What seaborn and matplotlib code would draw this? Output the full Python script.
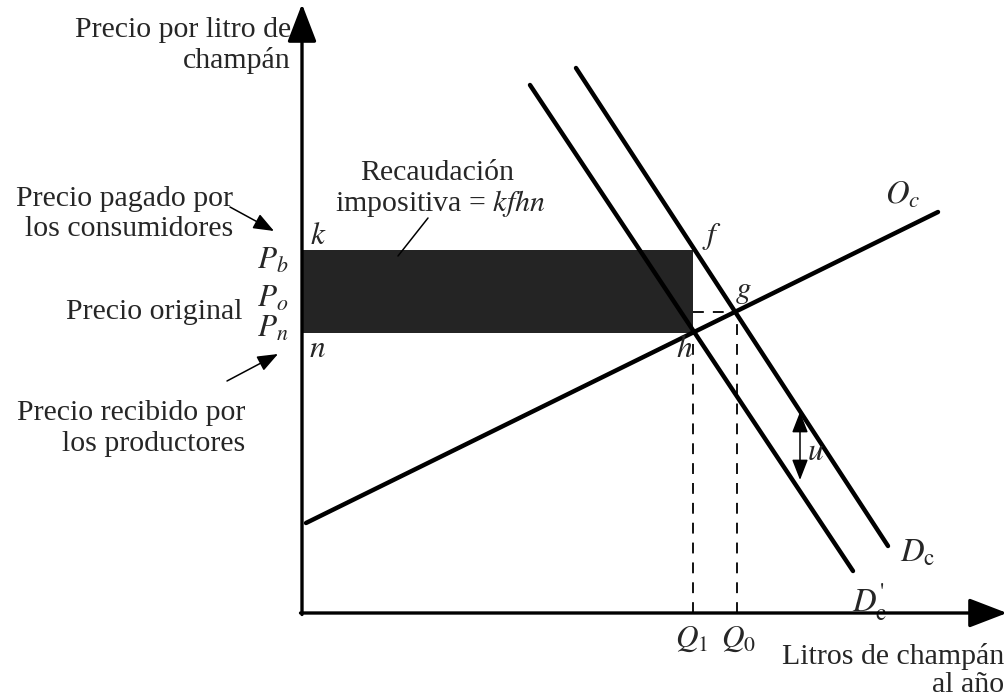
import numpy as np
import matplotlib
matplotlib.use("Agg")
import matplotlib.pyplot as plt
import pandas as pd
import seaborn as sns

# curves: quantity / price end points (origin of the diagram at 0, 0)
supply_q = [4, 636]
supply_p = [90, 401]
demand_q = [274, 586]
demand_p = [545, 67]
demand2_q = [228, 551]
demand2_p = [528, 42]

# prices and quantities
P_b = 363
P_o = 301
P_n = 280
Q_1 = 391
Q_0 = 435

sns.set_theme(style="white")
plt.rcParams['font.family'] = ['Liberation Serif', 'DejaVu Serif']
plt.rcParams['mathtext.fontset'] = 'stix'

fig = plt.figure(figsize=(10.08, 6.98), dpi=100)
ax = fig.add_axes([0, 0, 1, 1])

def P(x, y):
    # picture position -> diagram coords
    return (x - 302, 613 - y)

fs = 21.5

# tax revenue rectangle
ax.fill_between([0, Q_1], P_n, P_b, color='#242424', lw=0, zorder=1)

df = pd.concat([
    pd.DataFrame({'q': supply_q, 'p': supply_p, 'curve': 'Oc'}),
    pd.DataFrame({'q': demand_q, 'p': demand_p, 'curve': 'Dc'}),
    pd.DataFrame({'q': demand2_q, 'p': demand2_p, 'curve': "Dc'"}),
])
sns.lineplot(data=df, x='q', y='p', units='curve', estimator=None,
             color='black', lw=3.2, sort=False, ax=ax, zorder=3)
ax.set_xlim(-302, 1008 - 302)
ax.set_ylim(613 - 698, 613)
ax.axis('off')

# dashed guides
dash = dict(color='black', lw=1.3, ls=(0, (6, 5)), zorder=2)
ax.plot([Q_1, Q_1], [0, P_n], **dash)
ax.plot([Q_0, Q_0], [0, P_o], **dash)
ax.plot([Q_1, Q_0], [P_o, P_o], **dash)

# axes with arrows
axkw = dict(arrowstyle='-|>,head_length=1.3,head_width=0.5', color='black',
            lw=2.4, mutation_scale=18, shrinkA=0, shrinkB=0)
ax.annotate('', xy=P(302, 4), xytext=(0, -1.5), arrowprops=axkw, zorder=4)
ax.annotate('', xy=P(1007, 613), xytext=(-1.5, 0), arrowprops=axkw, zorder=4)

def txt(x, y, s, **kw):
    ax.text(*P(x, y), s, fontsize=kw.pop('size', fs), va='baseline', **kw)

# left texts
txt(291, 37, 'Precio por litro de', ha='right')
txt(291, 68, 'champán', ha='right')
txt(233, 206, 'Precio pagado por', ha='right')
txt(233, 236, 'los consumidores', ha='right')
txt(243, 319, 'Precio original', ha='right')
txt(245, 420, 'Precio recibido por', ha='right')
txt(245, 451, 'los productores', ha='right')

thin = dict(arrowstyle='-|>,head_length=0.9,head_width=0.35', color='black',
            lw=1.1, mutation_scale=14, shrinkA=0, shrinkB=0)
ax.annotate('', xy=P(274, 231), xytext=P(230, 207), arrowprops=thin)
ax.annotate('', xy=P(278, 354), xytext=P(227, 381), arrowprops=thin)

txt(288, 269, r'$P_b$', ha='right', size=fs + 1)
txt(288, 307, r'$P_o$', ha='right', size=fs + 1)
txt(288, 337, r'$P_n$', ha='right', size=fs + 1)

# point labels
for lab, x, y in [('k', 318, 244), ('n', 317, 357), ('f', 712, 244),
                  ('g', 743, 298), ('h', 684, 357), ('u', 815, 460)]:
    txt(x, y, '$' + lab + '$', ha='center', size=fs + 1)

txt(437, 180, 'Recaudación', ha='center')
txt(440, 211, 'impositiva = $kfhn$', ha='center')
ax.plot(*zip(P(428, 218), P(398, 256)), color='black', lw=1.1, zorder=2)

# u arrow
ax.annotate('', xy=P(800, 412), xytext=P(800, 480),
            arrowprops=dict(arrowstyle='<|-|>,head_length=0.9,head_width=0.35',
                            color='black', lw=1.1, mutation_scale=14,
                            shrinkA=0, shrinkB=0))

# curve labels
txt(903, 203, r'$O_c$', ha='center', size=fs + 2)
txt(918, 562, r'$D_{\mathrm{c}}$', ha='center', size=fs + 2)
txt(870, 611, r"$D_{\mathrm{c}}^{\text{'}}$", ha='center', size=fs + 2)

txt(692, 647, r'$Q_1$', ha='center', size=fs + 1)
txt(738, 647, r'$Q_0$', ha='center', size=fs + 1)

txt(1004, 664, 'Litros de champán', ha='right')
txt(1004, 692, 'al año', ha='right')

fig.savefig('out.png', dpi=100)
